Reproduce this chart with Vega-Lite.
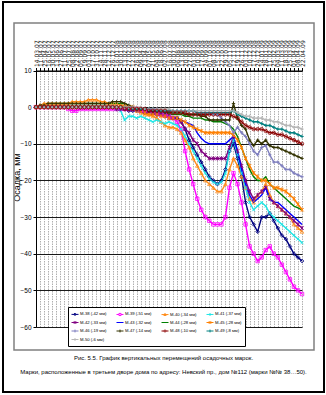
{
  "$schema": "https://vega.github.io/schema/vega-lite/v6.json",
  "autosize": {"type": "none"},
  "padding": {"left": 3, "top": 2, "right": 2, "bottom": 3},
  "width": 321,
  "height": 390,
  "background": "white",
  "config": {"font": "Liberation Sans", "view": {"stroke": "black", "strokeWidth": 2}},
  "title": {
    "text": ["Рис. 5.5. График вертикальных перемещений осадочных марок.", "Марки, расположенные в третьем дворе дома по адресу: Невский пр., дом №112 (марки №№ 38…50)."],
    "orient": "bottom",
    "frame": "group",
    "anchor": "middle",
    "offset": -37,
    "font": "Liberation Sans",
    "fontSize": 6,
    "fontWeight": "normal",
    "lineHeight": 14,
    "color": "black"
  },
  "datasets": {
    "marks": [
      {"key": "M38", "name": "М-38 (-42 мм)"},
      {"key": "M39", "name": "М-39 (-51 мм)"},
      {"key": "M40", "name": "М-40 (-34 мм)"},
      {"key": "M41", "name": "М-41 (-37 мм)"},
      {"key": "M42", "name": "М-42 (-33 мм)"},
      {"key": "M43", "name": "М-43 (-32 мм)"},
      {"key": "M44", "name": "М-44 (-28 мм)"},
      {"key": "M45", "name": "М-45 (-28 мм)"},
      {"key": "M46", "name": "М-46 (-19 мм)"},
      {"key": "M47", "name": "М-47 (-14 мм)"},
      {"key": "M48", "name": "М-48 (-10 мм)"},
      {"key": "M49", "name": "М-49 (-8 мм)"},
      {"key": "M50", "name": "М-50 (-6 мм)"}
    ],
    "obs": [
      {"d":"14.03.07","M38":0,"M39":0,"M40":0,"M41":0,"M42":0,"M43":0,"M44":0,"M45":0,"M46":0,"M47":0,"M48":0,"M49":0,"M50":0},
      {"d":"11.04.07","M38":0,"M39":0,"M40":0.5,"M41":0,"M42":0,"M43":0,"M44":0.5,"M45":0,"M46":0,"M47":0.5,"M48":0,"M49":0,"M50":0},
      {"d":"25.04.07","M38":0,"M39":0,"M40":1,"M41":0,"M42":0,"M43":0,"M44":0.5,"M45":0,"M46":0,"M47":0.5,"M48":0,"M49":0,"M50":0},
      {"d":"16.05.07","M38":0,"M39":0,"M40":1,"M41":0,"M42":0,"M43":0,"M44":1,"M45":0,"M46":0,"M47":1,"M48":0,"M49":0,"M50":0},
      {"d":"30.05.07","M38":0,"M39":0,"M40":1,"M41":0,"M42":0,"M43":0,"M44":1,"M45":0,"M46":0,"M47":1,"M48":0,"M49":0,"M50":0},
      {"d":"13.06.07","M38":0,"M39":0,"M40":1,"M41":0,"M42":0,"M43":0,"M44":1,"M45":0,"M46":0,"M47":1,"M48":0,"M49":0,"M50":0},
      {"d":"27.06.07","M38":0,"M39":0,"M40":1,"M41":0,"M42":0,"M43":0,"M44":1,"M45":0,"M46":0,"M47":1,"M48":0,"M49":0,"M50":0},
      {"d":"11.07.07","M38":0,"M39":0,"M40":1,"M41":0,"M42":0,"M43":0,"M44":1,"M45":0,"M46":0,"M47":1,"M48":0,"M49":0,"M50":0},
      {"d":"25.07.07","M38":0,"M39":-0.5,"M40":1,"M41":0,"M42":0,"M43":0,"M44":1,"M45":0,"M46":0,"M47":1,"M48":0,"M49":0,"M50":0},
      {"d":"08.08.07","M38":0,"M39":-1,"M40":1.5,"M41":0,"M42":0,"M43":0,"M44":1,"M45":0,"M46":0,"M47":1,"M48":0,"M49":0,"M50":0},
      {"d":"22.08.07","M38":0,"M39":-1,"M40":1.5,"M41":0,"M42":0,"M43":0,"M44":1,"M45":0,"M46":0,"M47":1,"M48":0,"M49":0,"M50":0},
      {"d":"05.09.07","M38":0,"M39":-0.5,"M40":1.5,"M41":0,"M42":0,"M43":0,"M44":1,"M45":0,"M46":0,"M47":1,"M48":0,"M49":0,"M50":0},
      {"d":"19.09.07","M38":0,"M39":-0.5,"M40":1.5,"M41":0,"M42":0,"M43":0,"M44":1,"M45":0,"M46":0,"M47":1,"M48":0,"M49":0,"M50":0},
      {"d":"03.10.07","M38":0,"M39":-0.5,"M40":2,"M41":0,"M42":0,"M43":0,"M44":1,"M45":0,"M46":0,"M47":1,"M48":0,"M49":0,"M50":0},
      {"d":"17.10.07","M38":0,"M39":-0.5,"M40":2,"M41":0,"M42":0,"M43":0,"M44":1,"M45":0,"M46":0,"M47":1,"M48":0,"M49":0,"M50":0},
      {"d":"31.10.07","M38":0,"M39":-0.5,"M40":2,"M41":0,"M42":0,"M43":0,"M44":1,"M45":0,"M46":0,"M47":1,"M48":0,"M49":0,"M50":0},
      {"d":"14.11.07","M38":0,"M39":-0.5,"M40":1.5,"M41":0,"M42":0,"M43":0,"M44":1,"M45":0,"M46":0,"M47":1,"M48":0,"M49":0,"M50":0},
      {"d":"28.11.07","M38":0,"M39":-0.5,"M40":1.5,"M41":0,"M42":0,"M43":0,"M44":1,"M45":0,"M46":0,"M47":1,"M48":0,"M49":0,"M50":0},
      {"d":"12.12.07","M38":0,"M39":-0.5,"M40":1,"M41":0,"M42":0,"M43":0,"M44":1,"M45":0,"M46":0,"M47":1,"M48":0,"M49":0,"M50":0},
      {"d":"26.12.07","M38":0,"M39":-0.5,"M40":1,"M41":0,"M42":0,"M43":0,"M44":1,"M45":0,"M46":0,"M47":1.5,"M48":0,"M49":0,"M50":0},
      {"d":"16.01.08","M38":-0.5,"M39":-0.5,"M40":1,"M41":-0.5,"M42":-0.5,"M43":-0.5,"M44":1,"M45":0,"M46":0,"M47":1.5,"M48":0,"M49":0,"M50":0},
      {"d":"30.01.08","M38":-0.5,"M39":-0.5,"M40":0.5,"M41":-1,"M42":-0.5,"M43":-0.5,"M44":1,"M45":0,"M46":0,"M47":1.5,"M48":0,"M49":0,"M50":0},
      {"d":"13.02.08","M38":-0.5,"M39":-0.5,"M40":0.5,"M41":-3.5,"M42":-0.5,"M43":-0.5,"M44":1,"M45":0,"M46":0,"M47":1,"M48":-0.5,"M49":0,"M50":0},
      {"d":"27.02.08","M38":-1,"M39":-0.5,"M40":0,"M41":-2.5,"M42":-0.5,"M43":-0.5,"M44":0.5,"M45":0,"M46":0,"M47":0.5,"M48":-0.5,"M49":-0.5,"M50":0},
      {"d":"12.03.08","M38":-1,"M39":-0.5,"M40":0,"M41":-2.5,"M42":-0.5,"M43":-0.5,"M44":0,"M45":0,"M46":0,"M47":0,"M48":-0.5,"M49":-0.5,"M50":0},
      {"d":"26.03.08","M38":-1,"M39":-0.5,"M40":-1,"M41":-3,"M42":-0.5,"M43":-1,"M44":-0.5,"M45":-0.5,"M46":-0.5,"M47":-0.5,"M48":-0.5,"M49":-0.5,"M50":0},
      {"d":"09.04.08","M38":-1,"M39":-1,"M40":-1.5,"M41":-2.5,"M42":-1,"M43":-1,"M44":-0.5,"M45":-1,"M46":-0.5,"M47":-0.5,"M48":-0.5,"M49":-0.5,"M50":0},
      {"d":"23.04.08","M38":-1.5,"M39":-1,"M40":-2,"M41":-3,"M42":-1,"M43":-1,"M44":-1,"M45":-1.5,"M46":-0.5,"M47":-0.5,"M48":-0.5,"M49":-0.5,"M50":-0.5},
      {"d":"07.05.08","M38":-1.5,"M39":-1,"M40":-2,"M41":-3.5,"M42":-1,"M43":-1,"M44":-1,"M45":-2,"M46":-0.5,"M47":-1,"M48":-1,"M49":-0.5,"M50":-0.5},
      {"d":"21.05.08","M38":-1.5,"M39":-1,"M40":-2.5,"M41":-4,"M42":-1.5,"M43":-1.5,"M44":-1,"M45":-2,"M46":-0.5,"M47":-1,"M48":-1,"M49":-0.5,"M50":-0.5},
      {"d":"04.06.08","M38":-2,"M39":-1.5,"M40":-3,"M41":-3.5,"M42":-2,"M43":-2,"M44":-1.5,"M45":-2,"M46":-0.5,"M47":-1,"M48":-1,"M49":-1,"M50":-0.5},
      {"d":"18.06.08","M38":-2,"M39":-2,"M40":-4,"M41":-4,"M42":-2,"M43":-2,"M44":-1.5,"M45":-2.5,"M46":-1,"M47":-1,"M48":-1,"M49":-1,"M50":-0.5},
      {"d":"02.07.08","M38":-2,"M39":-2,"M40":-5,"M41":-4.5,"M42":-2.5,"M43":-2.5,"M44":-1.5,"M45":-2.5,"M46":-1,"M47":-1.5,"M48":-1,"M49":-1,"M50":-0.5},
      {"d":"16.07.08","M38":-2.5,"M39":-2.5,"M40":-5.5,"M41":-4,"M42":-3,"M43":-3,"M44":-2,"M45":-3,"M46":-1,"M47":-1.5,"M48":-1.5,"M49":-1,"M50":-0.5},
      {"d":"30.07.08","M38":-3,"M39":-3,"M40":-5.5,"M41":-4.5,"M42":-3,"M43":-3,"M44":-2,"M45":-3,"M46":-1,"M47":-1.5,"M48":-1.5,"M49":-1,"M50":-1},
      {"d":"06.08.08","M38":-3,"M39":-4,"M40":-6,"M41":-5,"M42":-3,"M43":-3,"M44":-2,"M45":-3,"M46":-1,"M47":-1.5,"M48":-1.5,"M49":-1,"M50":-1},
      {"d":"13.08.08","M38":-4,"M39":-6,"M40":-7,"M41":-6,"M42":-4,"M43":-3.5,"M44":-2,"M45":-3.5,"M46":-1,"M47":-1.5,"M48":-1.5,"M49":-1,"M50":-1},
      {"d":"20.08.08","M38":-6,"M39":-12,"M40":-9,"M41":-8,"M42":-6,"M43":-4,"M44":-2.5,"M45":-4,"M46":-1,"M47":-2,"M48":-1.5,"M49":-1,"M50":-1},
      {"d":"27.08.08","M38":-9,"M39":-17,"M40":-11,"M41":-10,"M42":-7,"M43":-4.5,"M44":-2.5,"M45":-5,"M46":-1,"M47":-2,"M48":-2,"M49":-1,"M50":-1},
      {"d":"03.09.08","M38":-11,"M39":-21,"M40":-14,"M41":-12,"M42":-9,"M43":-5,"M44":-3,"M45":-5.5,"M46":-1,"M47":-2,"M48":-2,"M49":-1,"M50":-1},
      {"d":"10.09.08","M38":-13,"M39":-25,"M40":-16,"M41":-14,"M42":-10,"M43":-7,"M44":-3,"M45":-6,"M46":-1.5,"M47":-2,"M48":-2,"M49":-1.5,"M50":-1},
      {"d":"17.09.08","M38":-15,"M39":-28,"M40":-18,"M41":-16,"M42":-12,"M43":-8.5,"M44":-3,"M45":-6.5,"M46":-1.5,"M47":-2.5,"M48":-2,"M49":-1.5,"M50":-1},
      {"d":"24.09.08","M38":-17,"M39":-30,"M40":-20,"M41":-18,"M42":-13,"M43":-9.5,"M44":-3.5,"M45":-7,"M46":-1.5,"M47":-2.5,"M48":-2,"M49":-1.5,"M50":-1},
      {"d":"01.10.08","M38":-19,"M39":-31,"M40":-21,"M41":-19.5,"M42":-14,"M43":-10,"M44":-3.5,"M45":-7,"M46":-1.5,"M47":-3.5,"M48":-2,"M49":-1.5,"M50":-1},
      {"d":"08.10.08","M38":-20,"M39":-32,"M40":-22,"M41":-20.5,"M42":-14,"M43":-10,"M44":-4,"M45":-7,"M46":-2,"M47":-3.5,"M48":-2,"M49":-1.5,"M50":-1},
      {"d":"15.10.08","M38":-21,"M39":-32,"M40":-23,"M41":-21,"M42":-14,"M43":-10,"M44":-4,"M45":-7,"M46":-2,"M47":-3.5,"M48":-2,"M49":-1.5,"M50":-1},
      {"d":"22.10.08","M38":-20,"M39":-32,"M40":-23,"M41":-20.5,"M42":-14,"M43":-10,"M44":-4,"M45":-7,"M46":-3,"M47":-3.5,"M48":-2,"M49":-1.5,"M50":-1},
      {"d":"29.10.08","M38":-17,"M39":-30,"M40":-21,"M41":-18,"M42":-14,"M43":-10,"M44":-4.5,"M45":-7,"M46":-4,"M47":-3.5,"M48":-2,"M49":-1.5,"M50":-1},
      {"d":"05.11.08","M38":-12,"M39":-22,"M40":-17,"M41":-12,"M42":-11,"M43":-9,"M44":-5,"M45":-7,"M46":-5,"M47":-3.5,"M48":-2,"M49":-1.5,"M50":-1},
      {"d":"12.11.08","M38":-10,"M39":-18,"M40":-14,"M41":-9,"M42":-8,"M43":-8,"M44":-6,"M45":-7.5,"M46":-7,"M47":1,"M48":-2.5,"M49":-1,"M50":-1},
      {"d":"19.11.08","M38":-14,"M39":-21,"M40":-16,"M41":-13,"M42":-12,"M43":-12,"M44":-8,"M45":-9,"M46":-5.5,"M47":-3,"M48":-3,"M49":-2,"M50":-1.5},
      {"d":"26.11.08","M38":-19,"M39":-26,"M40":-19,"M41":-18,"M42":-16,"M43":-17,"M44":-11,"M45":-11,"M46":-7,"M47":-5,"M48":-4,"M49":-2.5,"M50":-2},
      {"d":"03.12.08","M38":-26,"M39":-32,"M40":-22,"M41":-22,"M42":-20,"M43":-21,"M44":-14,"M45":-14,"M46":-8,"M47":-6,"M48":-5,"M49":-3,"M50":-2.5},
      {"d":"10.12.08","M38":-30,"M39":-38,"M40":-25,"M41":-26,"M42":-23,"M43":-24,"M44":-17,"M45":-16,"M46":-10,"M47":-9,"M48":-5.5,"M49":-3.5,"M50":-2.5},
      {"d":"17.12.08","M38":-32,"M39":-40,"M40":-26,"M41":-28,"M42":-25,"M43":-26,"M44":-19,"M45":-18,"M46":-12,"M47":-10.5,"M48":-6,"M49":-4,"M50":-3},
      {"d":"24.12.08","M38":-34,"M39":-42,"M40":-24,"M41":-27,"M42":-24,"M43":-25,"M44":-20,"M45":-19,"M46":-13,"M47":-9,"M48":-6,"M49":-4,"M50":-3},
      {"d":"14.01.09","M38":-30,"M39":-41,"M40":-23,"M41":-26,"M42":-23,"M43":-24,"M44":-20,"M45":-20,"M46":-11,"M47":-10,"M48":-6,"M49":-4.5,"M50":-3},
      {"d":"28.01.09","M38":-30,"M39":-39,"M40":-21,"M41":-27,"M42":-22,"M43":-22,"M44":-19,"M45":-20,"M46":-10.5,"M47":-9,"M48":-6.5,"M49":-5,"M50":-3.5},
      {"d":"11.02.09","M38":-29,"M39":-38,"M40":-24,"M41":-29,"M42":-25,"M43":-25,"M44":-21,"M45":-21,"M46":-13,"M47":-10.5,"M48":-7,"M49":-5,"M50":-3.5},
      {"d":"25.02.09","M38":-31,"M39":-40,"M40":-26,"M41":-30,"M42":-26,"M43":-26,"M44":-22,"M45":-22,"M46":-15,"M47":-11,"M48":-7,"M49":-5.5,"M50":-4},
      {"d":"04.03.09","M38":-33,"M39":-41,"M40":-27,"M41":-31,"M42":-27,"M43":-26,"M44":-23,"M45":-22,"M46":-15,"M47":-11,"M48":-7.5,"M49":-6,"M50":-4},
      {"d":"11.03.09","M38":-35,"M39":-43,"M40":-28,"M41":-32,"M42":-28,"M43":-27,"M44":-24,"M45":-22.5,"M46":-16,"M47":-11.5,"M48":-7.5,"M49":-6,"M50":-4.5},
      {"d":"18.03.09","M38":-36,"M39":-45,"M40":-29,"M41":-33,"M42":-29,"M43":-28,"M44":-25,"M45":-23,"M46":-17,"M47":-12,"M48":-8,"M49":-6.5,"M50":-5},
      {"d":"25.03.09","M38":-38,"M39":-47,"M40":-30,"M41":-34,"M42":-30,"M43":-29,"M44":-26,"M45":-24,"M46":-17,"M47":-12.5,"M48":-8.5,"M49":-7,"M50":-5},
      {"d":"01.04.09","M38":-40,"M39":-49,"M40":-32,"M41":-35,"M42":-31,"M43":-30,"M44":-27,"M45":-25,"M46":-18,"M47":-13,"M48":-9,"M49":-7,"M50":-5.5},
      {"d":"08.04.09","M38":-41,"M39":-50,"M40":-33,"M41":-36,"M42":-32,"M43":-31,"M44":-27.5,"M45":-26.5,"M46":-18.5,"M47":-13.5,"M48":-9.5,"M49":-7.5,"M50":-5.5},
      {"d":"22.04.09","M38":-42,"M39":-51,"M40":-34,"M41":-37,"M42":-33,"M43":-32,"M44":-28,"M45":-28,"M46":-19,"M47":-14,"M48":-10,"M49":-8,"M50":-6}
    ]
  },
  "resolve": {"scale": {"x": "independent", "y": "independent"}},
  "layer": [
    {
      "data": {"values": [{}]},
      "mark": {"type": "rect", "fill": "transparent", "stroke": "#808080", "strokeWidth": 1.5},
      "encoding": {
        "x": {"datum": 0, "type": "quantitative", "scale": {"domain": [0, 1], "range": [11, 311]}, "axis": null},
        "x2": {"datum": 1},
        "y": {"datum": 0, "type": "quantitative", "scale": {"domain": [0, 1], "range": [21, 348]}, "axis": null},
        "y2": {"datum": 1}
      }
    },
    {
      "data": {"name": "obs"},
      "transform": [
        {"fold": ["M38","M39","M40","M41","M42","M43","M44","M45","M46","M47","M48","M49","M50"], "as": ["key", "v"]},
        {"lookup": "key", "from": {"data": {"name": "marks"}, "key": "key", "fields": ["name"]}}
      ],
      "encoding": {
        "x": {
          "field": "d", "type": "ordinal", "sort": null,
          "scale": {"type": "point", "padding": 0, "range": [33, 299]},
          "axis": {
            "orient": "top", "offset": -68.5, "title": null,
            "labelAngle": -90, "labelAlign": "left", "labelBaseline": "middle",
            "labelFont": "DejaVu Sans", "labelFontSize": 6, "labelPadding": 1,
            "labelOverlap": false, "labelColor": "#222222",
            "tickSize": 3, "tickColor": "black", "domainColor": "black",
            "grid": true, "gridColor": "#8c8c8c", "gridWidth": 0.7, "gridDash": [1.5, 1]
          }
        },
        "y": {
          "field": "v", "type": "quantitative",
          "scale": {"domain": [-60, 10], "range": [325, 68.5], "nice": false, "zero": false},
          "axis": {
            "offset": -33, "values": [-60, -50, -40, -30, -20, -10, 0, 10],
            "title": "Осадка, мм", "titleFontSize": 9, "titleFontWeight": "normal", "titleColor": "black",
            "titleX": -15, "titleY": 175, "titleAngle": 270, "titleBaseline": "bottom",
            "labelFontSize": 6.5, "labelColor": "black", "labelPadding": 2,
            "tickSize": 3, "tickColor": "black", "domainColor": "black",
            "grid": true, "gridColor": "black", "gridWidth": 0.9
          }
        },
        "color": {
          "field": "name", "type": "nominal",
          "scale": {
            "domain": ["М-38 (-42 мм)","М-39 (-51 мм)","М-40 (-34 мм)","М-41 (-37 мм)","М-42 (-33 мм)","М-43 (-32 мм)","М-44 (-28 мм)","М-45 (-28 мм)","М-46 (-19 мм)","М-47 (-14 мм)","М-48 (-10 мм)","М-49 (-8 мм)","М-50 (-6 мм)"],
            "range": ["#000080","#FF00FF","#FF8C1A","#1EE6E6","#800080","#0000FF","#008000","#FF8000","#7F7FBF","#333300","#8B0000","#008080","#B8B8B8"]
          },
          "legend": {
            "orient": "none", "legendX": 65, "legendY": 305, "columns": 4, "direction": "horizontal", "title": null,
            "strokeColor": "black", "fillColor": "white", "padding": 3,
            "labelFont": "Liberation Sans", "labelFontSize": 4.2, "labelColor": "black", "labelLimit": 60,
            "labelOffset": 1, "symbolSize": 49, "symbolStrokeWidth": 1,
            "columnPadding": 7, "rowPadding": 0.5
          }
        }
      },
      "layer": [
        {"mark": {"type": "line", "strokeWidth": 1.4}},
        {"transform": [{"filter": {"field": "key", "oneOf": ["M38"]}}],
         "mark": {"type": "point", "shape": "diamond", "size": 14, "filled": false, "strokeWidth": 0.8, "opacity": 1}},
        {"transform": [{"filter": {"field": "key", "oneOf": ["M39"]}}],
         "mark": {"type": "point", "shape": "square", "size": 12, "filled": false, "strokeWidth": 0.8, "opacity": 1}},
        {"transform": [{"filter": {"field": "key", "oneOf": ["M40"]}}],
         "mark": {"type": "point", "shape": "triangle-up", "size": 12, "filled": false, "strokeWidth": 0.8, "opacity": 1}},
        {"transform": [{"filter": {"field": "key", "oneOf": ["M41"]}}],
         "mark": {"type": "point", "shape": "M-1,-1L1,1M-1,1L1,-1", "size": 10, "filled": false, "strokeWidth": 0.8, "opacity": 1}},
        {"transform": [{"filter": {"field": "key", "oneOf": ["M42", "M45"]}}],
         "mark": {"type": "point", "shape": "M-1,-1L1,1M-1,1L1,-1M0,-1.3V1.3", "size": 12, "filled": false, "strokeWidth": 0.9, "opacity": 1}},
        {"transform": [{"filter": {"field": "key", "oneOf": ["M46", "M47", "M49", "M50"]}}],
         "mark": {"type": "point", "shape": "M0,-1V1M-1,0H1", "size": 12, "filled": false, "strokeWidth": 0.9, "opacity": 1}},
        {"transform": [{"filter": {"field": "key", "oneOf": ["M48"]}}],
         "mark": {"type": "point", "shape": "circle", "size": 12, "filled": false, "strokeWidth": 0.8, "opacity": 1}},
        {"transform": [{"filter": {"field": "v", "gt": 1000}}],
         "mark": {"type": "point", "filled": false, "strokeWidth": 1, "opacity": 1},
         "encoding": {
           "shape": {
             "field": "name", "type": "nominal",
             "scale": {
               "domain": ["М-38 (-42 мм)","М-39 (-51 мм)","М-40 (-34 мм)","М-41 (-37 мм)","М-42 (-33 мм)","М-43 (-32 мм)","М-44 (-28 мм)","М-45 (-28 мм)","М-46 (-19 мм)","М-47 (-14 мм)","М-48 (-10 мм)","М-49 (-8 мм)","М-50 (-6 мм)"],
               "range": [
                 "M-1,0H1M0,-0.35L0.35,0L0,0.35L-0.35,0Z",
                 "M-1,0H-0.3M0.3,0H1M-0.3,-0.3H0.3V0.3H-0.3Z",
                 "M-1,0H1M0,-0.35L0.33,0.25H-0.33Z",
                 "M-1,0H1M-0.3,-0.3L0.3,0.3M-0.3,0.3L0.3,-0.3",
                 "M-1,0H1M-0.3,-0.3L0.3,0.3M-0.3,0.3L0.3,-0.3M0,-0.4V0.4",
                 "M-1,0H1",
                 "M-1,0H1",
                 "M-1,0H1M-0.3,-0.3L0.3,0.3M-0.3,0.3L0.3,-0.3M0,-0.4V0.4",
                 "M-1,0H1M0,-0.4V0.4",
                 "M-1,0H1M0,-0.4V0.4",
                 "M-1,0H-0.3M0.3,0H1M0.3,0A0.3,0.3,0,1,1,-0.3,0A0.3,0.3,0,1,1,0.3,0",
                 "M-1,0H1M0,-0.4V0.4",
                 "M-1,0H1M0,-0.4V0.4"
               ]
             },
             "legend": {
               "orient": "none", "legendX": 65, "legendY": 305, "columns": 4, "direction": "horizontal", "title": null,
               "strokeColor": "black", "fillColor": "white", "padding": 3,
               "labelFont": "Liberation Sans", "labelFontSize": 4.2, "labelColor": "black", "labelLimit": 60,
               "labelOffset": 1, "symbolSize": 49, "symbolStrokeWidth": 1,
               "columnPadding": 7, "rowPadding": 0.5
             }
           }
         }}
      ]
    }
  ]
}
